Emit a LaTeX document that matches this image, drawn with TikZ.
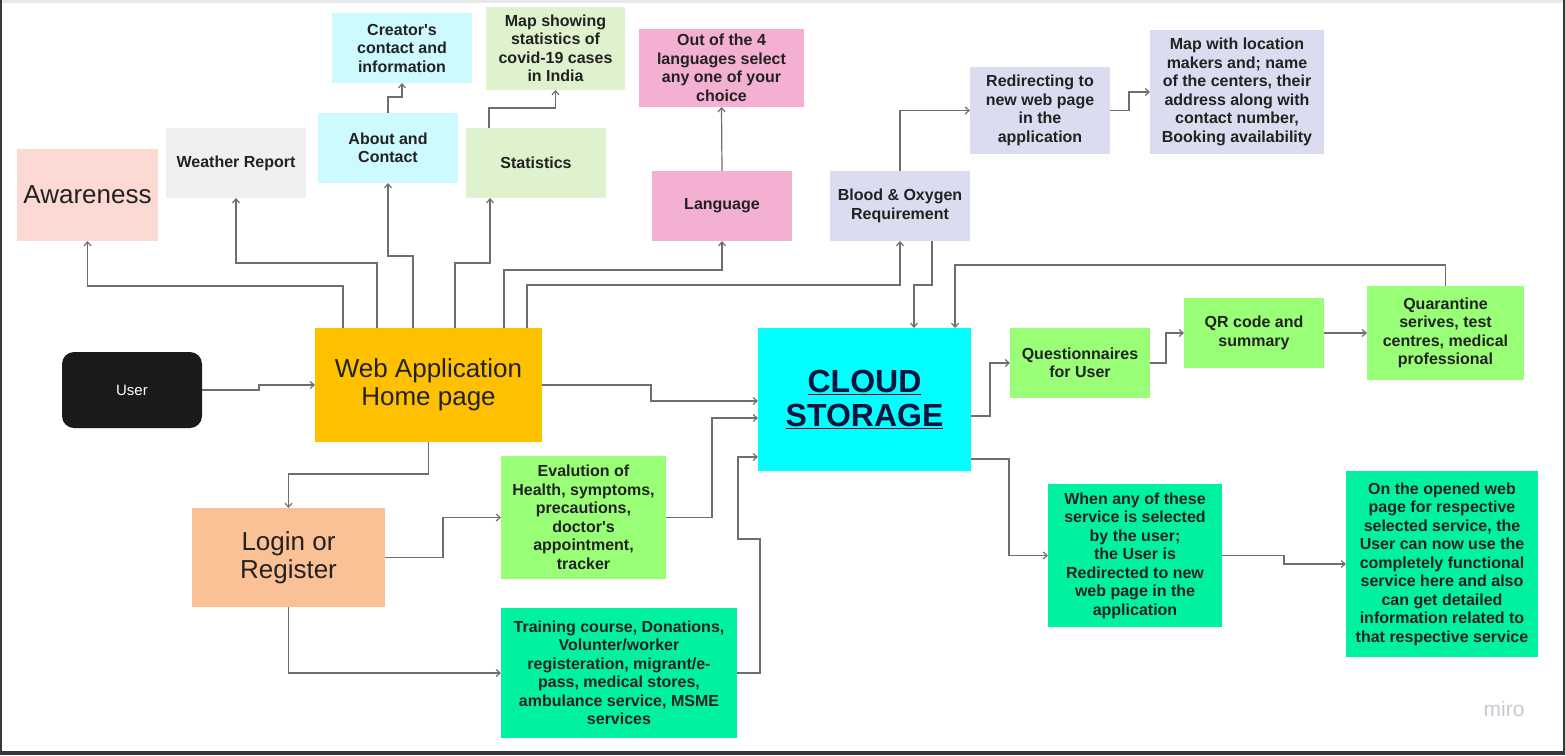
\documentclass[tikz,border=0pt]{standalone}
\usepackage{fontspec}
\setmainfont{Liberation Sans}
\usepackage{tikz}
\usetikzlibrary{arrows.meta}
\definecolor{awarepink}{RGB}{252,217,211}
\definecolor{weathergray}{RGB}{240,240,240}
\definecolor{aboutcyan}{RGB}{204,250,255}
\definecolor{statgreen}{RGB}{222,242,205}
\definecolor{langpink}{RGB}{244,176,210}
\definecolor{bloodlav}{RGB}{220,220,240}
\definecolor{userblack}{RGB}{26,26,26}
\definecolor{webyellow}{RGB}{255,192,0}
\definecolor{cloudcyan}{RGB}{0,255,255}
\definecolor{cloudnavy}{RGB}{10,20,60}
\definecolor{loginpeach}{RGB}{250,192,150}
\definecolor{servgreen}{RGB}{153,255,119}
\definecolor{servmint}{RGB}{0,242,160}
\definecolor{textdark}{RGB}{34,34,34}
\definecolor{linegray}{RGB}{110,110,110}
\definecolor{framegray}{RGB}{55,55,60}
\definecolor{mirogray}{RGB}{200,200,210}

\begin{document}
\begin{tikzpicture}[x=1pt, y=-1pt,
    box/.style={rectangle, fill=#1, inner sep=0pt, outer sep=0pt, align=center,
                text=textdark, font=\bfseries\fontsize{16}{18.5}\selectfont},
    big/.style={font=\fontsize{26}{28}\selectfont},
    conn/.style={draw=linegray, line width=1.2pt, -{Straight Barb[length=4pt,width=7pt]}}
]
    \useasboundingbox (0,0) rectangle (1565,755);
    % frame
    \fill[gray!18] (0,0) rectangle (1565,3);
    \fill[framegray] (0,0) rectangle (2,755);
    \fill[framegray] (0,751) rectangle (1565,755);
    \fill[framegray] (1563,0) rectangle (1565,755);

    % top row
    \node[box=awarepink, big, minimum width=141pt, minimum height=92pt] (aware) at (87.5,195) {Awareness};
    \node[box=weathergray, minimum width=140pt, minimum height=70pt] (weather) at (236,163) {Weather Report};
    \node[box=aboutcyan, minimum width=140pt, minimum height=70pt] (about) at (388,148) {About and\\Contact};
    \node[box=aboutcyan, minimum width=140pt, minimum height=70pt] (creator) at (402,48) {Creator\textquotesingle s\\contact and\\information};
    \node[box=statgreen, minimum width=140pt, minimum height=70pt] (stats) at (536,163) {Statistics};
    \node[box=statgreen, minimum width=139pt, minimum height=83pt] (mapstat) at (555.5,48.5) {Map showing\\statistics of\\covid-19 cases\\in India};
    \node[box=langpink, minimum width=140pt, minimum height=70pt] (lang) at (722,206) {Language};
    \node[box=langpink, minimum width=165pt, minimum height=78pt] (langsel) at (721.5,68) {Out of the 4\\languages select\\any one of your\\choice};
    \node[box=bloodlav, minimum width=140pt, minimum height=70pt] (blood) at (900,206) {Blood \& Oxygen\\Requirement};
    \node[box=bloodlav, minimum width=140pt, minimum height=87pt] (redirect) at (1040,110.5) {Redirecting to\\new web page\\in the\\application};
    \node[box=bloodlav, minimum width=174pt, minimum height=124pt] (mapcentre) at (1237,92) {Map with location\\makers and; name\\of the centers, their\\address along with\\contact number,\\Booking availability};

    % middle row
    \node[box=userblack, rounded corners=12pt, text=white, font=\fontsize{15}{18}\selectfont,
          minimum width=140pt, minimum height=76pt] (user) at (132,390) {User};
    \node[box=webyellow, big, minimum width=227pt, minimum height=114pt] (web) at (428.5,385) {Web Application\\Home page};
    \node[box=cloudcyan, text=cloudnavy, font=\bfseries\fontsize{32}{34}\selectfont,
          minimum width=213pt, minimum height=143pt] (cloud) at (864.5,399.5) {\underline{CLOUD}\\\underline{STORAGE}};
    \node[box=servgreen, minimum width=140pt, minimum height=70pt] (quest) at (1080,363) {Questionnaires\\for User};
    \node[box=servgreen, minimum width=140pt, minimum height=70pt] (qr) at (1254,333) {QR code and\\summary};
    \node[box=servgreen, minimum width=157pt, minimum height=94pt] (quar) at (1445.5,333) {Quarantine\\serives, test\\centres, medical\\professional};

    % bottom row
    \node[box=loginpeach, big, minimum width=193pt, minimum height=99pt] (login) at (288.5,557.5) {Login or\\Register};
    \node[box=servgreen, minimum width=165pt, minimum height=123pt] (eval) at (583.5,517.5) {Evalution of\\Health, symptoms,\\precautions,\\doctor\textquotesingle s\\appointment,\\tracker};
    \node[box=servmint, minimum width=236pt, minimum height=130pt] (train) at (619,673) {Training course, Donations,\\Volunter/worker\\registeration, migrant/e-\\pass, medical stores,\\ambulance service, MSME\\services};
    \node[box=servmint, minimum width=174pt, minimum height=143pt] (when) at (1135,555.5) {When any of these\\service is selected\\by the user;\\the User is\\Redirected to new\\web page in the\\application};
    \node[box=servmint, minimum width=192pt, minimum height=186pt] (opened) at (1442,564) {On the opened web\\page for respective\\selected service, the\\User can now use the\\completely functional\\service here and also\\can get detailed\\information related to\\that respective service};

    \node[text=mirogray, font=\fontsize{21}{24}\selectfont] (miro) at (1504,709) {miro};

    % connectors from the home page
    \draw[conn] (user.east) -- ++(57,0) |- (web.west);
    \draw[conn] ([xshift=28pt]web.north west) -- ++(0,-42) -| (aware.south);
    \draw[conn] ([xshift=62pt]web.north west) -- ++(0,-65) -| (weather.south);
    \draw[conn] ([xshift=98pt]web.north west) -- ++(0,-72) -| (about.south);
    \draw[conn] ([xshift=140pt]web.north west) -- ++(0,-65) -| ([xshift=-46pt]stats.south);
    \draw[conn] ([xshift=189pt]web.north west) -- ++(0,-58) -| (lang.south);
    \draw[conn] ([xshift=212pt]web.north west) -- ++(0,-43) -| (blood.south);
    \draw[conn] (about.north) -- ++(0,-16) -| (creator.south);
    \draw[conn] ([xshift=-47pt]stats.north) -- ++(0,-20) -| (mapstat.south);
    \draw[conn] (lang.north) -- (langsel.south);
    \draw[conn] (blood.north) |- (redirect.west);
    \draw[conn] (redirect.east) -- ++(19,0) |- (mapcentre.west);
    \draw[conn] (web.south) -- ++(0,32) -| (login.north);
    \draw[conn] (login.east) -- ++(58,0) |- (eval.west);
    \draw[conn] (login.south) |- (train.west);

    % into the cloud
    \draw[conn] ([xshift=32pt]blood.south) -- ++(0,44) -| ([xshift=156pt]cloud.north west);
    \draw[conn] (quar.north) -- ++(0,-21) -| ([xshift=197pt]cloud.north west);
    \draw[conn] (web.east) -- ++(109,0) |- ([yshift=-1.5pt]cloud.west);
    \draw[conn] (eval.east) -- ++(46,0) |- ([yshift=-18.5pt]cloud.west);
    \draw[conn] (train.east) -- ++(23,0) -- ++(0,-134) -- ++(-22,0) |- ([yshift=-57.5pt]cloud.west);

    % out of the cloud
    \draw[conn] ([yshift=-16.5pt]cloud.east) -- ++(19,0) |- (quest.west);
    \draw[conn] (quest.east) -- ++(16,0) |- (qr.west);
    \draw[conn] (qr.east) -- (quar.west);
    \draw[conn] ([yshift=-59.5pt]cloud.east) -- ++(38,0) |- (when.west);
    \draw[conn] (when.east) -- ++(62,0) |- (opened.west);
\end{tikzpicture}
\end{document}
